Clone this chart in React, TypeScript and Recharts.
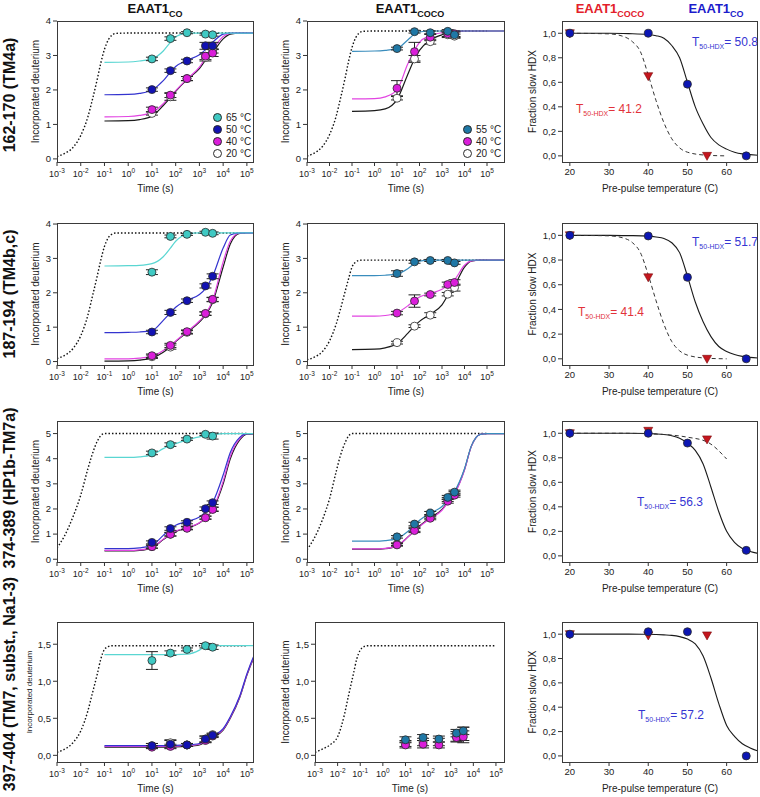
import React from "react";
import { ComposedChart, Line, Scatter, ErrorBar, XAxis, YAxis } from "recharts";

// HDX sampling times (s) and grids used for reading the fitted curves off the figure
const TIMES = [10, 60, 300, 1800, 3600];
const FIT_T = [0.1, 1, 3, 10, 30, 60, 100, 300, 1000, 1800, 3600, 10000, 20000, 50000, 100000, 600000];
const DOT_T = [0.001, 0.002, 0.005, 0.01, 0.02, 0.03, 0.05, 0.07, 0.1, 0.15, 0.2, 0.3, 1, 100000];
const LOG_TICKS = [0.001, 0.01, 0.1, 1, 10, 100, 1000, 10000, 100000];

const ROW_LABELS = ["162-170 (TM4a)", "187-194 (TM4b,c)", "374-389 (HP1b-TM7a)", "397-404 (TM7, subst., Na1-3)"];
const LEG_CO = ["65", "50", "40", "20"];
const LEG_COCO = ["55", "40", "20"];

// ---- row 1: 162-170
const R1C1_DOT = [0.07, 0.15, 0.35, 0.68, 1.22, 1.68, 2.32, 2.78, 3.18, 3.47, 3.58, 3.64, 3.65, 3.65];
const R1C1_F65 = [2.8, 2.81, 2.84, 2.9, 3.13, 3.38, 3.54, 3.65, 3.65, 3.65, 3.65, 3.65, 3.65, 3.65, 3.65, 3.65];
const R1C1_F50 = [1.86, 1.87, 1.9, 2.0, 2.27, 2.52, 2.68, 2.86, 3.02, 3.17, 3.38, 3.62, 3.65, 3.65, 3.65, 3.65];
const R1C1_F40 = [1.22, 1.23, 1.26, 1.35, 1.6, 1.83, 1.98, 2.32, 2.66, 2.93, 3.17, 3.55, 3.64, 3.65, 3.65, 3.65];
const R1C1_F20 = [1.1, 1.11, 1.14, 1.24, 1.55, 1.78, 1.96, 2.3, 2.62, 2.86, 3.08, 3.48, 3.62, 3.65, 3.65, 3.65];
const R1C1_65 = [2.9, 3.49, 3.66, 3.62, 3.6];
const R1C1_65E = [0.05, 0.05, 0.03, 0.03, 0.04];
const R1C1_50 = [2.01, 2.56, 2.84, 3.28, 3.28];
const R1C1_50E = [0.05, 0.05, 0.05, 0.1, 0.1];
const R1C1_40 = [1.43, 1.85, 2.33, 2.98, 3.07];
const R1C1_40E = [0.07, 0.07, 0.06, 0.1, 0.1];
const R1C1_20 = [1.32, 1.8, 2.33, 2.94, 3.13];
const R1C1_20E = [0.05, 0.1, 0.06, 0.1, 0.06];

const R1C2_DOT = [0.08, 0.16, 0.37, 0.7, 1.25, 1.72, 2.36, 2.82, 3.23, 3.53, 3.64, 3.7, 3.71, 3.71];
const R1C2_F55 = [3.12, 3.13, 3.15, 3.2, 3.45, 3.62, 3.68, 3.71, 3.71, 3.71, 3.71, 3.71, 3.71, 3.71, 3.71, 3.71];
const R1C2_F40 = [1.74, 1.75, 1.8, 2.0, 2.75, 3.15, 3.38, 3.58, 3.66, 3.68, 3.7, 3.71, 3.71, 3.71, 3.71, 3.71];
const R1C2_F20 = [1.38, 1.4, 1.45, 1.72, 2.45, 2.9, 3.15, 3.45, 3.6, 3.64, 3.68, 3.71, 3.71, 3.71, 3.71, 3.71];
const R1C2_55 = [3.2, 3.69, 3.66, 3.7, 3.6];
const R1C2_55E = [0.04, 0.04, 0.05, 0.05, 0.08];
const R1C2_40 = [2.05, 3.11, 3.53, 3.63, 3.63];
const R1C2_40E = [0.22, 0.27, 0.1, 0.08, 0.08];
const R1C2_20 = [1.76, 2.9, 3.4, 3.6, 3.56];
const R1C2_20E = [0.05, 0.1, 0.07, 0.08, 0.06];

// ---- row 2: 187-194
const R2C1_DOT = [0.09, 0.17, 0.4, 0.75, 1.35, 1.85, 2.5, 2.95, 3.35, 3.62, 3.7, 3.74, 3.74, 3.74];
const R2C1_F65 = [2.78, 2.79, 2.8, 2.85, 3.05, 3.3, 3.5, 3.7, 3.74, 3.74, 3.74, 3.74, 3.74, 3.74, 3.74, 3.74];
const R2C1_F50 = [0.84, 0.85, 0.86, 0.9, 1.2, 1.42, 1.58, 1.78, 1.95, 2.12, 2.48, 3.3, 3.68, 3.74, 3.74, 3.74];
const R2C1_F40 = [0.08, 0.08, 0.1, 0.15, 0.32, 0.47, 0.6, 0.87, 1.18, 1.38, 1.78, 2.9, 3.5, 3.74, 3.74, 3.74];
const R2C1_F20 = [0.01, 0.02, 0.04, 0.1, 0.27, 0.43, 0.58, 0.85, 1.15, 1.35, 1.72, 2.75, 3.42, 3.73, 3.74, 3.74];
const R2C1_65 = [2.6, 3.64, 3.7, 3.76, 3.73];
const R2C1_65E = [0.07, 0.04, 0.03, 0.03, 0.04];
const R2C1_50 = [0.86, 1.43, 1.77, 2.2, 2.48];
const R2C1_50E = [0.05, 0.06, 0.05, 0.06, 0.07];
const R2C1_40 = [0.17, 0.47, 0.87, 1.4, 1.81];
const R2C1_40E = [0.05, 0.06, 0.05, 0.05, 0.06];
const R2C1_20 = [0.14, 0.42, 0.85, 1.39, 1.8];
const R2C1_20E = [0.05, 0.06, 0.05, 0.05, 0.06];

const R2C2_DOT = [0.05, 0.12, 0.3, 0.6, 1.1, 1.5, 2.05, 2.4, 2.75, 2.9, 2.94, 2.95, 2.95, 2.95];
const R2C2_F55 = [2.5, 2.5, 2.51, 2.55, 2.7, 2.85, 2.92, 2.95, 2.95, 2.95, 2.95, 2.95, 2.95, 2.95, 2.95, 2.95];
const R2C2_F40 = [1.32, 1.32, 1.34, 1.42, 1.62, 1.78, 1.88, 1.98, 2.1, 2.22, 2.38, 2.8, 2.93, 2.95, 2.95, 2.95];
const R2C2_F20 = [0.35, 0.36, 0.4, 0.52, 0.82, 1.03, 1.17, 1.38, 1.65, 1.92, 2.2, 2.75, 2.92, 2.95, 2.95, 2.95];
const R2C2_55 = [2.56, 2.9, 2.94, 2.94, 2.87];
const R2C2_55E = [0.08, 0.04, 0.03, 0.03, 0.04];
const R2C2_40 = [1.41, 1.76, 1.95, 2.24, 2.3];
const R2C2_40E = [0.05, 0.18, 0.04, 0.07, 0.08];
const R2C2_20 = [0.55, 1.03, 1.35, 1.96, 2.15];
const R2C2_20E = [0.04, 0.04, 0.07, 0.05, 0.1];

// ---- row 3: 374-389
const R3C1_DOT = [0.45, 0.9, 1.75, 2.55, 3.6, 4.15, 4.7, 4.92, 5.0, 5.0, 5.0, 5.0, 5.0, 5.0];
const R3C1_F65 = [4.05, 4.05, 4.07, 4.15, 4.4, 4.52, 4.6, 4.75, 4.87, 4.92, 4.96, 5.0, 5.0, 5.0, 5.0, 5.0];
const R3C1_F50 = [0.42, 0.42, 0.45, 0.55, 0.95, 1.2, 1.35, 1.5, 1.68, 1.88, 2.25, 3.35, 4.25, 4.85, 5.0, 5.0];
const R3C1_F40 = [0.35, 0.35, 0.37, 0.47, 0.8, 1.0, 1.12, 1.25, 1.45, 1.65, 2.0, 3.1, 4.1, 4.8, 5.0, 5.0];
const R3C1_F20 = [0.33, 0.33, 0.35, 0.45, 0.78, 0.98, 1.1, 1.24, 1.44, 1.63, 1.97, 3.0, 4.0, 4.75, 4.98, 5.0];
const R3C1_65 = [4.23, 4.56, 4.78, 4.97, 4.9];
const R3C1_65E = [0.07, 0.07, 0.05, 0.05, 0.12];
const R3C1_50 = [0.67, 1.22, 1.47, 2.01, 2.25];
const R3C1_50E = [0.06, 0.07, 0.06, 0.07, 0.07];
const R3C1_40 = [0.5, 0.99, 1.23, 1.65, 1.98];
const R3C1_40E = [0.06, 0.07, 0.06, 0.06, 0.08];
const R3C1_20 = [0.5, 1.0, 1.25, 1.66, 2.0];
const R3C1_20E = [0.06, 0.07, 0.06, 0.06, 0.08];

const R3C2_DOT = [0.38, 0.8, 1.6, 2.4, 3.5, 4.1, 4.65, 4.9, 5.0, 5.0, 5.0, 5.0, 5.0, 5.0];
const R3C2_F55 = [0.72, 0.72, 0.74, 0.82, 1.1, 1.35, 1.55, 1.83, 2.1, 2.35, 2.7, 3.6, 4.5, 4.97, 5.0, 5.0];
const R3C2_F40 = [0.41, 0.41, 0.43, 0.53, 0.88, 1.12, 1.3, 1.62, 1.95, 2.25, 2.6, 3.55, 4.48, 4.97, 5.0, 5.0];
const R3C2_F20 = [0.4, 0.4, 0.42, 0.52, 0.88, 1.13, 1.32, 1.65, 1.98, 2.28, 2.63, 3.57, 4.49, 4.97, 5.0, 5.0];
const R3C2_55 = [0.89, 1.4, 1.84, 2.46, 2.67];
const R3C2_55E = [0.05, 0.07, 0.06, 0.08, 0.08];
const R3C2_40 = [0.57, 1.14, 1.63, 2.31, 2.55];
const R3C2_40E = [0.05, 0.08, 0.06, 0.08, 0.08];
const R3C2_20 = [0.6, 1.19, 1.69, 2.38, 2.62];
const R3C2_20E = [0.05, 0.08, 0.06, 0.08, 0.08];

// ---- row 4: 397-404
const R4C1_DOT = [0.04, 0.08, 0.18, 0.33, 0.6, 0.82, 1.1, 1.3, 1.43, 1.47, 1.48, 1.48, 1.48, 1.48];
const R4C1_F65 = [1.36, 1.36, 1.36, 1.36, 1.36, 1.36, 1.36, 1.365, 1.42, 1.47, 1.48, 1.48, 1.48, 1.48, 1.48, 1.48];
const R4C1_F50 = [0.13, 0.13, 0.13, 0.13, 0.13, 0.13, 0.135, 0.14, 0.16, 0.2, 0.26, 0.36, 0.52, 0.8, 1.1, 1.68];
const R4C1_F40 = [0.12, 0.12, 0.12, 0.12, 0.12, 0.12, 0.125, 0.13, 0.15, 0.19, 0.25, 0.35, 0.51, 0.79, 1.09, 1.66];
const R4C1_F20 = [0.11, 0.11, 0.11, 0.11, 0.11, 0.11, 0.115, 0.12, 0.14, 0.18, 0.24, 0.34, 0.5, 0.78, 1.08, 1.65];
const R4C1_65 = [1.28, 1.38, 1.43, 1.48, 1.46];
const R4C1_65E = [0.12, 0.03, 0.02, 0.03, 0.03];
const R4C1_50 = [0.13, 0.15, 0.14, 0.22, 0.27];
const R4C1_50E = [0.03, 0.05, 0.02, 0.04, 0.02];
const R4C1_40 = [0.11, 0.12, 0.14, 0.2, 0.26];
const R4C1_40E = [0.02, 0.03, 0.02, 0.03, 0.02];
const R4C1_20 = [0.13, 0.17, 0.14, 0.22, 0.28];
const R4C1_20E = [0.03, 0.04, 0.02, 0.04, 0.02];

const R4C2_DOT = [0.04, 0.08, 0.15, 0.25, 0.55, 0.8, 1.1, 1.3, 1.42, 1.47, 1.48, 1.48, 1.48, 1.48];
const R4C2_55 = [0.21, 0.24, 0.22, 0.3, 0.33];
const R4C2_55E = [0.04, 0.04, 0.04, 0.05, 0.05];
const R4C2_40 = [0.14, 0.15, 0.14, 0.24, 0.25];
const R4C2_40E = [0.04, 0.05, 0.04, 0.05, 0.08];
const R4C2_20 = [0.16, 0.18, 0.18, 0.25, 0.29];
const R4C2_20E = [0.04, 0.05, 0.05, 0.07, 0.09];

// ---- third column: fraction slow HDX vs pre-pulse temperature
const FIT_C = [20, 30, 35, 40, 42, 44, 46, 48, 50, 52, 54, 56, 58, 60, 62, 64, 66, 68];
const DASH_C = [20, 30, 34, 36, 38, 40, 42, 44, 46, 48, 50, 55, 60];
const BLUE_C = [20, 40, 50, 65];
const RED_C = [20, 40, 55];

const CO_FIT = [
  [1.0, 1.0, 0.997, 0.99, 0.98, 0.96, 0.9, 0.8, 0.6, 0.4, 0.26, 0.15, 0.09, 0.055, 0.03, 0.016, 0.01, 0.005],
  [1.0, 1.0, 0.998, 0.994, 0.987, 0.975, 0.94, 0.86, 0.67, 0.46, 0.3, 0.18, 0.1, 0.06, 0.035, 0.02, 0.012, 0.007],
  [1.0, 1.0, 1.0, 0.998, 0.995, 0.99, 0.98, 0.96, 0.92, 0.86, 0.75, 0.56, 0.36, 0.2, 0.11, 0.06, 0.035, 0.02],
  [1.0, 1.0, 1.0, 0.999, 0.997, 0.994, 0.99, 0.98, 0.96, 0.92, 0.82, 0.64, 0.43, 0.25, 0.16, 0.1, 0.065, 0.04],
];
const COCO_FIT = [
  [1.0, 0.995, 0.97, 0.93, 0.85, 0.66, 0.45, 0.27, 0.14, 0.065, 0.03, 0.005, 0.0],
  [1.0, 0.996, 0.975, 0.94, 0.86, 0.68, 0.47, 0.28, 0.14, 0.065, 0.03, 0.005, 0.0],
  [1.0, 1.0, 1.0, 0.999, 0.998, 0.996, 0.993, 0.99, 0.985, 0.978, 0.968, 0.93, 0.79],
  null,
];
const CO_PTS = [
  [1.0, 1.0, 0.585, 0.0],
  [1.0, 0.995, 0.66, 0.0],
  [1.0, 1.0, 0.92, 0.045],
  [1.0, 1.02, 1.02, 0.0],
];
const COCO_PTS = [
  [1.0, 0.65, 0.0],
  [1.0, 0.66, 0.0],
  [1.0, 1.02, 0.95],
  [1.0, 0.99, 0.99],
];
const T50_CO = ["50.8", "51.7", "56.3", "57.2"];
const T50_COCO = ["41.2", "41.4", null, null];

// layout
const COL_L = [57, 307, 562];
const COL_R = [254, 505, 758];
const ROW_T = [21, 223, 421, 622];
const ROW_B = [162, 365, 562, 762];
const YW = 45;
const TOP = 6;
const XH = 34;
const FONT = "'Liberation Sans', Arial, Helvetica, sans-serif";

const STY: Record<string, { fill: string; line: string }> = {
  c: { fill: "#3fc9c3", line: "#5ad6d2" },
  b: { fill: "#1212b2", line: "#3434cf" },
  m: { fill: "#da1eda", line: "#e244e2" },
  w: { fill: "#ffffff", line: "#1a1a1a" },
  t: { fill: "#1f78a6", line: "#3a8dbd" },
};

const pairs = (xs: number[], vs: number[], es?: number[]) =>
  xs.map((t, i) => ({ t, v: vs[i], e: es ? es[i] : 0 }));

const comma1 = (v: number) => v.toFixed(1).replace(".", ",");

type Ser = { k: string; v: number[]; e?: number[] };
type Kin = {
  r: number; c: number; L?: number; yDom: [number, number]; yTicks: number[]; dec?: boolean;
  xMax: number; dot: number[]; fits: Ser[]; pts: Ser[]; labOff: number; labFs: number;
};

const KIN: Kin[] = [
  {
    r: 0, c: 0, yDom: [-0.09, 4], yTicks: [0, 1, 2, 3, 4], xMax: 199526, dot: R1C1_DOT, labOff: 23, labFs: 10,
    fits: [{ k: "w", v: R1C1_F20 }, { k: "m", v: R1C1_F40 }, { k: "b", v: R1C1_F50 }, { k: "c", v: R1C1_F65 }],
    pts: [{ k: "w", v: R1C1_20, e: R1C1_20E }, { k: "m", v: R1C1_40, e: R1C1_40E }, { k: "b", v: R1C1_50, e: R1C1_50E }, { k: "c", v: R1C1_65, e: R1C1_65E }],
  },
  {
    r: 0, c: 1, yDom: [-0.09, 4], yTicks: [0, 1, 2, 3, 4], xMax: 630957, dot: R1C2_DOT, labOff: 23, labFs: 10,
    fits: [{ k: "w", v: R1C2_F20 }, { k: "m", v: R1C2_F40 }, { k: "t", v: R1C2_F55 }],
    pts: [{ k: "w", v: R1C2_20, e: R1C2_20E }, { k: "m", v: R1C2_40, e: R1C2_40E }, { k: "t", v: R1C2_55, e: R1C2_55E }],
  },
  {
    r: 1, c: 0, yDom: [-0.1, 4.03], yTicks: [0, 1, 2, 3, 4], xMax: 199526, dot: R2C1_DOT, labOff: 23, labFs: 10,
    fits: [{ k: "w", v: R2C1_F20 }, { k: "m", v: R2C1_F40 }, { k: "b", v: R2C1_F50 }, { k: "c", v: R2C1_F65 }],
    pts: [{ k: "w", v: R2C1_20, e: R2C1_20E }, { k: "m", v: R2C1_40, e: R2C1_40E }, { k: "b", v: R2C1_50, e: R2C1_50E }, { k: "c", v: R2C1_65, e: R2C1_65E }],
  },
  {
    r: 1, c: 1, yDom: [-0.1, 4.03], yTicks: [0, 1, 2, 3, 4], xMax: 630957, dot: R2C2_DOT, labOff: 23, labFs: 10,
    fits: [{ k: "w", v: R2C2_F20 }, { k: "m", v: R2C2_F40 }, { k: "t", v: R2C2_F55 }],
    pts: [{ k: "w", v: R2C2_20, e: R2C2_20E }, { k: "m", v: R2C2_40, e: R2C2_40E }, { k: "t", v: R2C2_55, e: R2C2_55E }],
  },
  {
    r: 2, c: 0, yDom: [-0.11, 5.5], yTicks: [0, 1, 2, 3, 4, 5], xMax: 199526, dot: R3C1_DOT, labOff: 23, labFs: 10,
    fits: [{ k: "w", v: R3C1_F20 }, { k: "m", v: R3C1_F40 }, { k: "b", v: R3C1_F50 }, { k: "c", v: R3C1_F65 }],
    pts: [{ k: "w", v: R3C1_20, e: R3C1_20E }, { k: "m", v: R3C1_40, e: R3C1_40E }, { k: "b", v: R3C1_50, e: R3C1_50E }, { k: "c", v: R3C1_65, e: R3C1_65E }],
  },
  {
    r: 2, c: 1, yDom: [-0.11, 5.5], yTicks: [0, 1, 2, 3, 4, 5], xMax: 630957, dot: R3C2_DOT, labOff: 23, labFs: 10,
    fits: [{ k: "w", v: R3C2_F20 }, { k: "m", v: R3C2_F40 }, { k: "t", v: R3C2_F55 }],
    pts: [{ k: "w", v: R3C2_20, e: R3C2_20E }, { k: "m", v: R3C2_40, e: R3C2_40E }, { k: "t", v: R3C2_55, e: R3C2_55E }],
  },
  {
    r: 3, c: 0, yDom: [-0.09, 1.8], yTicks: [0, 0.5, 1, 1.5], dec: true, xMax: 199526, dot: R4C1_DOT, labOff: 17, labFs: 8,
    fits: [{ k: "w", v: R4C1_F20 }, { k: "m", v: R4C1_F40 }, { k: "b", v: R4C1_F50 }, { k: "c", v: R4C1_F65 }],
    pts: [{ k: "w", v: R4C1_20, e: R4C1_20E }, { k: "m", v: R4C1_40, e: R4C1_40E }, { k: "b", v: R4C1_50, e: R4C1_50E }, { k: "c", v: R4C1_65, e: R4C1_65E }],
  },
  {
    r: 3, c: 1, L: 315, yDom: [-0.09, 1.8], yTicks: [0, 0.5, 1, 1.5], dec: true, xMax: 251189, dot: R4C2_DOT, labOff: 15, labFs: 10,
    fits: [],
    pts: [{ k: "w", v: R4C2_20, e: R4C2_20E }, { k: "m", v: R4C2_40, e: R4C2_40E }, { k: "t", v: R4C2_55, e: R4C2_55E }],
  },
];

const LogTick = (props: any) => {
  const { x, y, payload } = props;
  const exp = Math.round(Math.log10(payload.value));
  return (
    <text x={x} y={y + 9} textAnchor="middle" fontSize={9} fill="#222">
      10<tspan dy={-4} fontSize={6.5}>{exp}</tspan>
    </text>
  );
};

const circle = (fill: string) => (props: any) =>
  <circle cx={props.cx} cy={props.cy} r={4} fill={fill} stroke="#2a2a2a" strokeWidth={0.8} />;

const triangle = (props: any) => {
  const { cx, cy } = props;
  return <path d={`M${cx - 4.5},${cy - 3.5}L${cx + 4.5},${cy - 3.5}L${cx},${cy + 4.5}Z`} fill="#c4161e" stroke="#7a0c0c" strokeWidth={0.6} />;
};

const Frame = ({ L, R, T, B }: { L: number; R: number; T: number; B: number }) => (
  <div style={{ position: "absolute", left: L, top: T, width: R - L, height: B - T + 1, border: "1px solid #3a3a3a", boxSizing: "border-box", pointerEvents: "none" }} />
);

function KinChart({ p }: { p: Kin }) {
  const L = p.L ?? COL_L[p.c], R = COL_R[p.c], T = ROW_T[p.r], B = ROW_B[p.r];
  return (
    <>
      <div style={{ position: "absolute", left: L - YW, top: T - TOP }}>
        <ComposedChart width={R - L + YW + 2} height={B - T + TOP + XH} margin={{ top: TOP, right: 2, bottom: 0, left: 0 }}>
          <XAxis dataKey="t" type="number" scale="log" domain={[0.001, p.xMax]} allowDataOverflow ticks={LOG_TICKS} interval={0}
            tick={<LogTick />} tickSize={4} tickLine={{ stroke: "#333" }} axisLine={false} height={XH}
            label={{ value: "Time (s)", position: "insideBottom", offset: 4, style: { fontSize: 10, fill: "#222" } }} />
          <YAxis type="number" domain={p.yDom} allowDataOverflow ticks={p.yTicks} interval={0} width={YW}
            tickFormatter={p.dec ? comma1 : (v: number) => String(v)} tick={{ fontSize: 9.5, fill: "#222" }}
            tickSize={4} tickLine={{ stroke: "#333" }} axisLine={false}
            label={{ value: "Incorporated deuterium", angle: -90, position: "insideLeft", offset: p.labOff, style: { textAnchor: "middle", fontSize: p.labFs, fill: "#222" } }} />
          <Line data={pairs(DOT_T, p.dot)} dataKey="v" type="monotone" stroke="#111" strokeWidth={1.4} strokeDasharray="1.5 2" dot={false} activeDot={false} isAnimationActive={false} />
          {p.fits.map((f, i) => (
            <Line key={"f" + i} data={pairs(FIT_T, f.v)} dataKey="v" type="monotone" stroke={STY[f.k].line} strokeWidth={1.2} dot={false} activeDot={false} isAnimationActive={false} />
          ))}
          {p.pts.map((s, i) => (
            <Scatter key={"s" + i} data={pairs(TIMES, s.v, s.e)} dataKey="v" shape={circle(STY[s.k].fill)} isAnimationActive={false}>
              <ErrorBar dataKey="e" direction="y" width={6} stroke="#222" strokeWidth={1} />
            </Scatter>
          ))}
        </ComposedChart>
      </div>
      <Frame L={L} R={R} T={T} B={B} />
    </>
  );
}

function TempChart({ r }: { r: number }) {
  const L = COL_L[2], R = COL_R[2], T = ROW_T[r], B = ROW_B[r];
  const dash = COCO_FIT[r];
  return (
    <>
      <div style={{ position: "absolute", left: L - YW, top: T - TOP }}>
        <ComposedChart width={R - L + YW + 2} height={B - T + TOP + XH} margin={{ top: TOP, right: 2, bottom: 0, left: 0 }}>
          <XAxis dataKey="t" type="number" domain={[18, 68]} allowDataOverflow ticks={[20, 30, 40, 50, 60]} interval={0}
            tick={{ fontSize: 9.5, fill: "#222" }} tickSize={4} tickLine={{ stroke: "#333" }} axisLine={false} height={XH}
            label={{ value: "Pre-pulse temperature (C)", position: "insideBottom", offset: 4, style: { fontSize: 10, fill: "#222" } }} />
          <YAxis type="number" domain={[-0.05, 1.1]} allowDataOverflow ticks={[0, 0.2, 0.4, 0.6, 0.8, 1]} interval={0} width={YW}
            tickFormatter={comma1} tick={{ fontSize: 9.5, fill: "#222" }} tickSize={4} tickLine={{ stroke: "#333" }} axisLine={false}
            label={{ value: "Fraction slow HDX", angle: -90, position: "insideLeft", offset: 15, style: { textAnchor: "middle", fontSize: 10, fill: "#222" } }} />
          <Line data={pairs(FIT_C, CO_FIT[r])} dataKey="v" type="monotone" stroke="#1a1a1a" strokeWidth={1.1} dot={false} activeDot={false} isAnimationActive={false} />
          {dash && (
            <Line data={pairs(DASH_C, dash)} dataKey="v" type="monotone" stroke="#333" strokeWidth={1} strokeDasharray="4 3" dot={false} activeDot={false} isAnimationActive={false} />
          )}
          <Scatter data={pairs(RED_C, COCO_PTS[r])} dataKey="v" shape={triangle} isAnimationActive={false} />
          <Scatter data={pairs(BLUE_C, CO_PTS[r])} dataKey="v" shape={circle("#0c16b4")} isAnimationActive={false} />
        </ComposedChart>
      </div>
      <Frame L={L} R={R} T={T} B={B} />
    </>
  );
}

const LegendBox = ({ x, y, items }: { x: number; y: number; items: [string, string][] }) => (
  <div style={{ position: "absolute", left: x, top: y, fontSize: 10, color: "#222" }}>
    {items.map(([lab, k]) => (
      <div key={lab} style={{ display: "flex", alignItems: "center", height: 12, whiteSpace: "nowrap" }}>
        <span style={{ display: "inline-block", width: 7, height: 7, borderRadius: "50%", background: STY[k].fill, border: "1px solid #2a2a2a", marginRight: 4 }} />
        {lab} °C
      </div>
    ))}
  </div>
);

const T50 = ({ x, y, color, val }: { x: number; y: number; color: string; val: string }) => (
  <div style={{ position: "absolute", left: x, top: y, transform: "translateY(-50%)", color, fontSize: 12, lineHeight: "14px", whiteSpace: "nowrap" }}>
    T<span style={{ fontSize: 7, position: "relative", top: 3 }}>50-HDX</span>= {val}
  </div>
);

const Title = ({ cx, color, main, sub }: { cx: number; color: string; main: string; sub: string }) => (
  <div style={{ position: "absolute", left: cx, top: 1, transform: "translateX(-50%)", color, fontWeight: "bold", fontSize: 13, lineHeight: "16px", whiteSpace: "nowrap" }}>
    {main}<span style={{ fontSize: 9, position: "relative", top: 4 }}>{sub}</span>
  </div>
);

const ROW_CY = [95, 294, 488, 684];

export default function App() {
  return (
    <div style={{ position: "absolute", left: 0, top: 0, width: 760, height: 797, background: "#fff", fontFamily: FONT, overflow: "hidden" }}>
      {KIN.map((p, i) => <KinChart key={i} p={p} />)}
      {[0, 1, 2, 3].map((r) => <TempChart key={"t" + r} r={r} />)}

      <Title cx={155} color="#111" main="EAAT1" sub="CO" />
      <Title cx={410} color="#111" main="EAAT1" sub="COCO" />
      <Title cx={610} color="#e3202a" main="EAAT1" sub="COCO" />
      <Title cx={716} color="#1c1ccc" main="EAAT1" sub="CO" />

      {ROW_LABELS.map((lab, r) => (
        <div key={lab} style={{ position: "absolute", left: 10, top: ROW_CY[r], transform: "translate(-50%, -50%) rotate(-90deg)", fontWeight: "bold", fontSize: 16, whiteSpace: "nowrap", color: "#111" }}>
          {lab}
        </div>
      ))}

      <LegendBox x={213} y={111} items={LEG_CO.map((l, i) => [l, ["c", "b", "m", "w"][i]] as [string, string])} />
      <LegendBox x={463} y={123} items={LEG_COCO.map((l, i) => [l, ["t", "m", "w"][i]] as [string, string])} />

      <T50 x={692} y={43} color="#3535d2" val={T50_CO[0]} />
      <T50 x={576} y={110} color="#e2323a" val={T50_COCO[0] as string} />
      <T50 x={692} y={243} color="#3535d2" val={T50_CO[1]} />
      <T50 x={578} y={313} color="#e2323a" val={T50_COCO[1] as string} />
      <T50 x={637} y={503} color="#3535d2" val={T50_CO[2]} />
      <T50 x={638} y={716} color="#3535d2" val={T50_CO[3]} />
    </div>
  );
}
